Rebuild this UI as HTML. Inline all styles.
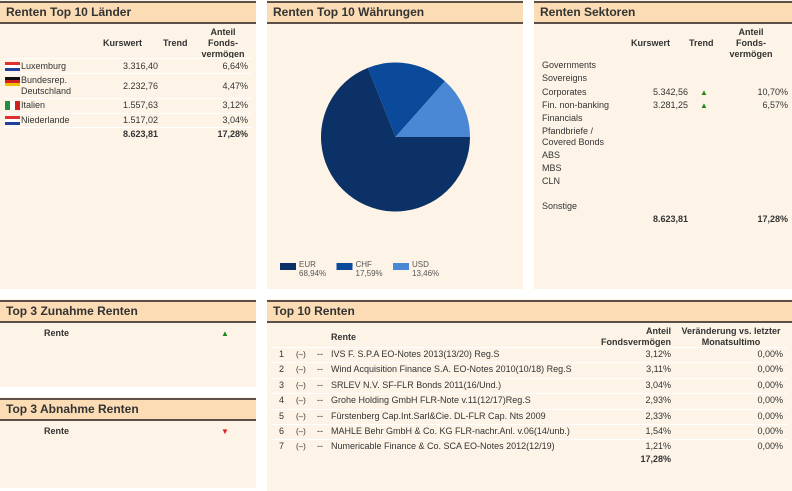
<!DOCTYPE html>
<html><head><meta charset="utf-8"><style>
body{margin:0;width:792px;height:491px;background:#fff;font-family:"Liberation Sans",sans-serif;color:#333;position:relative;overflow:hidden}
.p{position:absolute;background:#fdf4e7}
.h{position:absolute;left:0;right:0;top:0;height:19px;background:#fbdcb4;border-top:2px solid #5a5048;border-bottom:2px solid #5a5048;font-weight:bold;font-size:12px;line-height:19px;padding-left:6px;color:#333;box-sizing:content-box}
.t{position:absolute;font-size:9px;line-height:11px;white-space:nowrap}
.b{font-weight:bold}
.r{text-align:right}
.c{text-align:center}
.ln{position:absolute;height:1px;background:#fff}
.up{color:#1a8a1a;font-size:8px}
</style></head><body>

<div class="p" style="left:0;top:0;width:256px;height:289px">
<div class="h" style="top:1px">Renten Top 10 Länder</div>
<div class="t b" style="left:103px;top:38px">Kurswert</div>
<div class="t b" style="left:163px;top:38px">Trend</div>
<div class="t b c" style="left:198px;top:27px;width:50px">Anteil<br>Fonds-<br>vermögen</div>
<div class="ln" style="left:4px;width:248px;top:58px"></div>
<div style="position:absolute;left:5px;top:62px;width:15px;height:9px;background:linear-gradient(#e03030 33%,#fff 33%,#fff 66%,#2040a0 66%)"></div>
<div class="t" style="left:21px;top:61px">Luxemburg</div>
<div class="t r" style="left:100px;top:61px;width:58px">3.316,40</div>
<div class="t r" style="left:200px;top:61px;width:48px">6,64%</div>
<div class="ln" style="left:4px;width:248px;top:73px"></div>
<div style="position:absolute;left:5px;top:77px;width:15px;height:9px;background:linear-gradient(#111 33%,#d02020 33%,#d02020 66%,#f0c000 66%)"></div>
<div class="t" style="left:21px;top:75px">Bundesrep.<br>Deutschland</div>
<div class="t r" style="left:100px;top:81px;width:58px">2.232,76</div>
<div class="t r" style="left:200px;top:81px;width:48px">4,47%</div>
<div class="ln" style="left:4px;width:248px;top:98px"></div>
<div style="position:absolute;left:5px;top:101px;width:15px;height:9px;background:linear-gradient(90deg,#209040 33%,#fff 33%,#fff 66%,#d02020 66%)"></div>
<div class="t" style="left:21px;top:100px">Italien</div>
<div class="t r" style="left:100px;top:100px;width:58px">1.557,63</div>
<div class="t r" style="left:200px;top:100px;width:48px">3,12%</div>
<div class="ln" style="left:4px;width:248px;top:113px"></div>
<div style="position:absolute;left:5px;top:116px;width:15px;height:9px;background:linear-gradient(#e03030 33%,#fff 33%,#fff 66%,#2040a0 66%)"></div>
<div class="t" style="left:21px;top:115px">Niederlande</div>
<div class="t r" style="left:100px;top:115px;width:58px">1.517,02</div>
<div class="t r" style="left:200px;top:115px;width:48px">3,04%</div>
<div class="ln" style="left:4px;width:248px;top:127px"></div>
<div class="t b r" style="left:100px;top:129px;width:58px">8.623,81</div>
<div class="t b r" style="left:200px;top:129px;width:48px">17,28%</div>
</div>

<div class="p" style="left:267px;top:0;width:256px;height:289px">
<div class="h" style="top:1px">Renten Top 10 Währungen</div>
<svg id="pie" width="256" height="289" style="position:absolute;left:0;top:0"></svg>
</div>

<div class="p" style="left:534px;top:0;width:258px;height:289px">
<div class="h" style="top:1px">Renten Sektoren</div>
<div class="t b" style="left:97px;top:38px">Kurswert</div>
<div class="t b" style="left:155px;top:38px">Trend</div>
<div class="t b c" style="left:192px;top:27px;width:50px">Anteil<br>Fonds-<br>vermögen</div>
<div class="t" style="left:8px;top:60px">Governments</div>
<div class="t" style="left:8px;top:73px">Sovereigns</div>
<div class="t" style="left:8px;top:87px">Corporates</div>
<div class="t r" style="left:90px;top:87px;width:64px">5.342,56</div>
<div class="t up" style="left:166px;top:87px">▲</div>
<div class="t r" style="left:190px;top:87px;width:64px">10,70%</div>
<div class="t" style="left:8px;top:100px">Fin. non-banking</div>
<div class="t r" style="left:90px;top:100px;width:64px">3.281,25</div>
<div class="t up" style="left:166px;top:100px">▲</div>
<div class="t r" style="left:190px;top:100px;width:64px">6,57%</div>
<div class="t" style="left:8px;top:113px">Financials</div>
<div class="t" style="left:8px;top:126px">Pfandbriefe /<br>Covered Bonds</div>
<div class="t" style="left:8px;top:150px">ABS</div>
<div class="t" style="left:8px;top:163px">MBS</div>
<div class="t" style="left:8px;top:176px">CLN</div>
<div class="t" style="left:8px;top:201px">Sonstige</div>
<div class="t b r" style="left:90px;top:214px;width:64px">8.623,81</div>
<div class="t b r" style="left:190px;top:214px;width:64px">17,28%</div>
</div>

<div class="p" style="left:0;top:299px;width:256px;height:88px">
<div class="h" style="top:1px">Top 3 Zunahme Renten</div>
<div class="t b" style="left:44px;top:29px">Rente</div>
<div class="t up" style="left:221px;top:29px">▲</div>
</div>

<div class="p" style="left:0;top:397px;width:256px;height:91px">
<div class="h" style="top:1px">Top 3 Abnahme Renten</div>
<div class="t b" style="left:44px;top:29px">Rente</div>
<div class="t" style="left:221px;top:29px;color:#e02020;font-size:8px">▼</div>
</div>

<div class="p" style="left:267px;top:299px;width:525px;height:192px">
<div class="h" style="top:1px">Top 10 Renten</div>
<div class="t b" style="left:64px;top:33px">Rente</div>
<div class="t b r" style="left:300px;top:27px;width:104px">Anteil<br>Fondsvermögen</div>
<div class="t b c" style="left:404px;top:27px;width:120px">Veränderung vs. letzter<br>Monatsultimo</div>
<div id="rows"></div>
<div class="t b r" style="left:300px;top:155px;width:104px">17,28%</div>
</div>

<script>
const names=["IVS F. S.P.A EO-Notes 2013(13/20) Reg.S","Wind Acquisition Finance S.A. EO-Notes 2010(10/18) Reg.S","SRLEV N.V. SF-FLR Bonds 2011(16/Und.)","Grohe Holding GmbH FLR-Note v.11(12/17)Reg.S","Fürstenberg Cap.Int.Sarl&Cie. DL-FLR Cap. Nts 2009","MAHLE Behr GmbH & Co. KG FLR-nachr.Anl. v.06(14/unb.)","Numericable Finance & Co. SCA EO-Notes 2012(12/19)"];
const shares=["3,12%","3,11%","3,04%","2,93%","2,33%","1,54%","1,21%"];
const changes=["0,00%","0,00%","0,00%","0,00%","0,00%","0,00%","0,00%"];
const rows=document.getElementById('rows');
names.forEach((n,i)=>{
  const y=50+i*15.4;
  const d=document.createElement('div');
  
  
  d.innerHTML=`<div class="ln" style="left:4px;width:517px;top:${y-2}px"></div><div class="t" style="left:12px;top:${y}px">${i+1}</div><div class="t" style="left:29px;top:${y}px;font-size:8px">(–)</div><div class="t" style="left:50px;top:${y}px">--</div><div class="t" style="left:64px;top:${y}px">${n.replace(/&/g,'&amp;')}</div><div class="t r" style="left:300px;top:${y}px;width:104px">${shares[i]}</div><div class="t r" style="left:420px;top:${y}px;width:96px">${changes[i]}</div>`;
  rows.appendChild(d);
});

const cur=["EUR","CHF","USD"];
const vals=[68.94,17.59,13.46];
const cols=["#0b3166","#0b4a9a","#4a88d6"];
const svg=document.getElementById('pie');
const NS="http://www.w3.org/2000/svg";
const cx=128.5,cy=137,R=74.5;
const tot=vals.reduce((a,b)=>a+b,0);
let a0=0;
vals.forEach((v,i)=>{
  const a1=a0+v/tot*2*Math.PI;
  const x0=cx+R*Math.cos(a0),y0=cy+R*Math.sin(a0),x1=cx+R*Math.cos(a1),y1=cy+R*Math.sin(a1);
  const p=document.createElementNS(NS,'path');
  p.setAttribute('d',`M${cx},${cy}L${x0},${y0}A${R},${R} 0 ${a1-a0>Math.PI?1:0} 1 ${x1},${y1}Z`);
  p.setAttribute('fill',cols[i]);
  
  
  svg.appendChild(p);
  a0=a1;
  const lx=13+i*56.5;
  const r=document.createElementNS(NS,'rect');
  r.setAttribute('x',lx);r.setAttribute('y',263);r.setAttribute('width',16);r.setAttribute('height',7);r.setAttribute('fill',cols[i]);
  
  
  svg.appendChild(r);
  [cur[i],v.toFixed(2).replace('.',',')+'%'].forEach((s,k)=>{
    const t=document.createElementNS(NS,'text');
    t.setAttribute('x',lx+19);t.setAttribute('y',267+k*9);
    t.setAttribute('font-size','8');t.setAttribute('fill','#555');t.setAttribute('font-family','Liberation Sans, sans-serif');
    
    
    t.textContent=s;svg.appendChild(t);
  });
});
</script>
</body></html>
